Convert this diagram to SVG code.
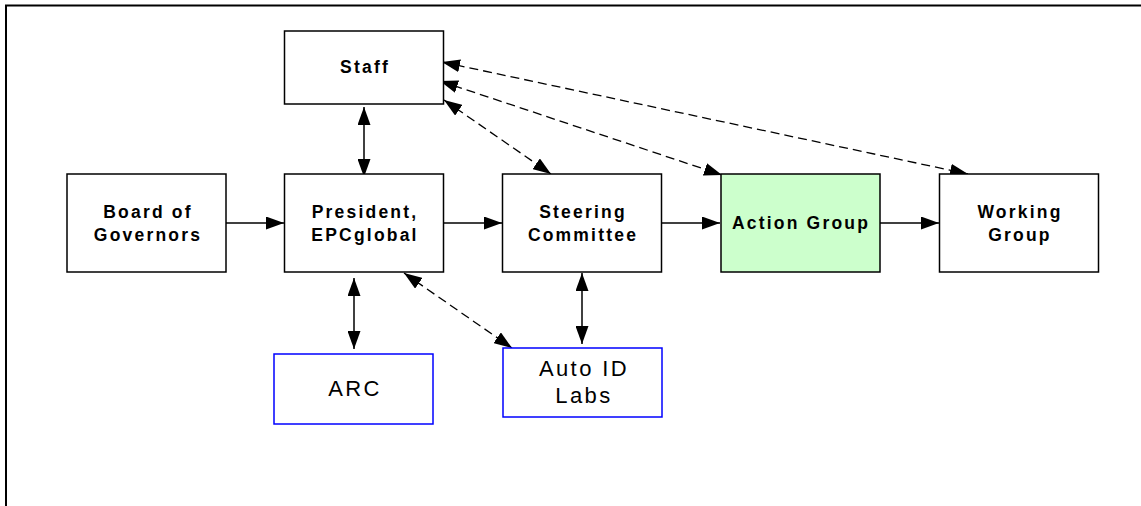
<svg xmlns="http://www.w3.org/2000/svg" width="1141" height="506" viewBox="0 0 1141 506">
<style>
.box{fill:#fff;stroke:#000;stroke-width:1.5}
.blue{fill:#fff;stroke:#0000ff;stroke-width:1.5}
.green{fill:#ccffcc;stroke:#000;stroke-width:1.5}
.bt{font-family:"Liberation Sans",Arial,sans-serif;font-weight:bold;font-size:17.5px;letter-spacing:2.2px;text-anchor:middle;fill:#000}
.rt{font-family:"Liberation Sans",Arial,sans-serif;font-size:22px;letter-spacing:2.4px;text-anchor:middle;fill:#000}
.c{stroke:#000;stroke-width:1.5;fill:none}
.d{stroke:#000;stroke-width:1.3;fill:none;stroke-dasharray:9 5}
</style>
<defs>
<marker id="ah" markerUnits="userSpaceOnUse" markerWidth="18" markerHeight="13" refX="18" refY="6.5" orient="auto-start-reverse" viewBox="0 0 18 13">
<path d="M0,0 L18,6.5 L0,13 z" fill="#000"/>
</marker>
</defs>
<rect width="1141" height="506" fill="#fff"/>
<path d="M6,506 V5.5 H1141" fill="none" stroke="#000" stroke-width="2"/>
<g id="connectors">
<line class="c" x1="226" y1="223" x2="284" y2="223" marker-end="url(#ah)"/>
<line class="c" x1="443" y1="223" x2="502" y2="223" marker-end="url(#ah)"/>
<line class="c" x1="662" y1="223" x2="720" y2="223" marker-end="url(#ah)"/>
<line class="c" x1="880" y1="223" x2="939" y2="223" marker-end="url(#ah)"/>
<line class="c" x1="364" y1="107" x2="364" y2="177" marker-start="url(#ah)" marker-end="url(#ah)"/>
<line class="c" x1="354" y1="278" x2="354" y2="349" marker-start="url(#ah)" marker-end="url(#ah)"/>
<line class="c" x1="582" y1="273" x2="582" y2="344" marker-start="url(#ah)" marker-end="url(#ah)"/>
<line class="d" x1="442" y1="62" x2="968" y2="174" marker-start="url(#ah)" marker-end="url(#ah)"/>
<line class="d" x1="440" y1="81" x2="722" y2="175" marker-start="url(#ah)" marker-end="url(#ah)"/>
<line class="d" x1="444" y1="100" x2="551" y2="174" marker-start="url(#ah)" marker-end="url(#ah)"/>
<line class="d" x1="404" y1="273" x2="512" y2="348" marker-start="url(#ah)" marker-end="url(#ah)"/>
</g>
<g id="staff">
<rect class="box" x="284.5" y="31" width="159" height="73"/>
<text class="bt" x="365" y="73">Staff</text>
</g>
<g id="board">
<rect class="box" x="67" y="174" width="159" height="98"/>
<text class="bt" x="148" y="218">Board of</text>
<text class="bt" x="148" y="241">Governors</text>
</g>
<g id="president">
<rect class="box" x="284.5" y="174" width="159" height="98"/>
<text class="bt" x="365" y="218">President,</text>
<text class="bt" x="365" y="241">EPCglobal</text>
</g>
<g id="steering">
<rect class="box" x="502.5" y="174" width="159" height="98"/>
<text class="bt" x="583" y="218">Steering</text>
<text class="bt" x="583" y="241">Committee</text>
</g>
<g id="action">
<rect class="green" x="721" y="174" width="159" height="98"/>
<text class="bt" x="801" y="229">Action Group</text>
</g>
<g id="working">
<rect class="box" x="939.5" y="174" width="159" height="98"/>
<text class="bt" x="1020" y="218">Working</text>
<text class="bt" x="1020" y="241">Group</text>
</g>
<g id="arc">
<rect class="blue" x="274" y="354" width="159" height="70"/>
<text class="rt" x="355" y="396">ARC</text>
</g>
<g id="autoid">
<rect class="blue" x="503" y="348" width="159" height="69"/>
<text class="rt" x="584" y="376">Auto ID</text>
<text class="rt" x="584" y="403">Labs</text>
</g>
</svg>
